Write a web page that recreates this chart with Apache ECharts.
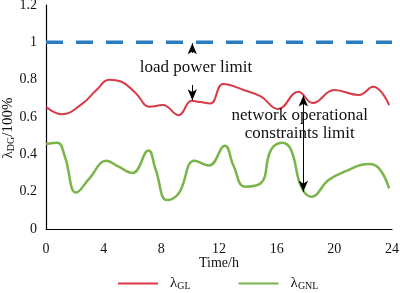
<!DOCTYPE html>
<html>
<head>
<meta charset="utf-8" />
<title>lambda DG</title>
<script src="https://cdn.jsdelivr.net/npm/echarts@6/dist/echarts.min.js"></script>
<style>
  html, body { margin: 0; padding: 0; background: #fff; }
  #main { width: 400px; height: 293px; }
</style>
</head>
<body>
<div id="main"></div>
<script>
// data
var glTime = [0, 1.1, 2.5, 3.5, 4.4, 5.2, 6.2, 7.2, 8.1, 9.2, 10.1, 10.7, 11.4, 12.3, 13.7, 14.9, 16.1, 17.5, 18.5, 20, 21.7, 22.7, 23.8];
var glValue = [0.655, 0.615, 0.67, 0.745, 0.8, 0.79, 0.73, 0.655, 0.664, 0.61, 0.687, 0.68, 0.672, 0.777, 0.745, 0.71, 0.643, 0.735, 0.675, 0.745, 0.718, 0.762, 0.664];

var gnlTime = [0, 0.8, 1.3, 2.1, 3, 4.2, 5, 6, 7.1, 7.6, 8.4, 9.2, 10.3, 11.3, 12.4, 13, 13.8, 14.9, 15.6, 16.4, 17, 17.7, 18.4, 19.6, 20.7, 22.4, 23.1, 23.8];
var gnlValue = [0.455, 0.462, 0.39, 0.195, 0.27, 0.366, 0.335, 0.3, 0.42, 0.32, 0.155, 0.19, 0.366, 0.34, 0.446, 0.34, 0.227, 0.245, 0.423, 0.462, 0.423, 0.227, 0.173, 0.262, 0.307, 0.348, 0.325, 0.218];

var limitTime = [0, 24];
var limitValue = [1, 1];

function pairs(t, v) {
  var out = [];
  for (var i = 0; i < t.length; i++) out.push([t[i], v[i]]);
  return out;
}

var serif = 'Liberation Serif';
var chart = echarts.init(document.getElementById('main'));

var arrowLine = { color: '#000', width: 1, type: 'solid' };

var option = {
  animation: false,
  grid: { left: 46, right: 8, top: 5, bottom: 64, outerBoundsMode: 'none', containLabel: false },
  xAxis: {
    type: 'value',
    min: 0, max: 24, interval: 4,
    name: 'Time/h',
    nameLocation: 'middle',
    nameGap: 27,
    nameMoveOverlap: false,
    nameTextStyle: { fontFamily: serif, fontSize: 14, color: '#111' },
    axisLine: { lineStyle: { color: '#000', width: 1.2 } },
    axisTick: { show: false },
    splitLine: { show: false },
    axisLabel: { fontFamily: serif, fontSize: 14, color: '#111', margin: 13 }
  },
  yAxis: {
    type: 'value',
    min: 0, max: 1.2, interval: 0.2,
    name: '{l|λ}{s|DG}{n|/100%}',
    nameLocation: 'middle',
    nameGap: 30,
    nameMoveOverlap: false,
    nameTextStyle: {
      padding: [0, 22, 0, 0],
      rich: {
        l: { fontFamily: serif, fontSize: 15, color: '#111' },
        s: { fontFamily: serif, fontSize: 10, color: '#111', verticalAlign: 'bottom', padding: [6, 0, 0, 0] },
        n: { fontFamily: serif, fontSize: 15, color: '#111' }
      }
    },
    axisLine: { show: true, lineStyle: { color: '#000', width: 1.2 } },
    axisTick: { show: false },
    splitLine: { show: false },
    axisLabel: { fontFamily: serif, fontSize: 14, color: '#111', margin: 9 }
  },
  legend: {
    left: 113,
    top: 271,
    itemGap: 48,
    itemWidth: 40,
    itemHeight: 2,
    icon: 'rect',
    data: ['λGL', 'λGNL'],
    formatter: function (name) {
      return '{l|λ}{s|' + name.slice(1) + '}';
    },
    textStyle: {
      rich: {
        l: { fontFamily: serif, fontSize: 15, color: '#111', padding: [0, 0, 0, 7] },
        s: { fontFamily: serif, fontSize: 10, color: '#111', verticalAlign: 'bottom', padding: [6, 0, 0, 0] }
      }
    }
  },
  series: [
    {
      name: 'limit',
      type: 'line',
      data: pairs(limitTime, limitValue),
      symbol: 'none',
      lineStyle: { color: '#2a7cc0', width: 3.5, type: [17, 13] },
      z: 3
    },
    {
      name: 'λGL',
      type: 'line',
      data: pairs(glTime, glValue),
      smooth: 0.45,
      symbol: 'none',
      itemStyle: { color: '#d83b47' },
      lineStyle: { color: '#d83b47', width: 2 }
    },
    {
      name: 'λGNL',
      type: 'line',
      data: pairs(gnlTime, gnlValue),
      smooth: 0.45,
      symbol: 'none',
      itemStyle: { color: '#7bb44a' },
      lineStyle: { color: '#7bb44a', width: 2.5 }
    },
    {
      name: 'notes',
      type: 'line',
      data: [],
      markLine: {
        silent: true,
        symbol: ['none', 'arrow'],
        symbolSize: [7, 11],
        label: { show: false },
        lineStyle: arrowLine,
        data: [
          [{ coord: [10.15, 0.943] }, { coord: [10.15, 0.995] }],
          [{ coord: [10.15, 0.771] }, { coord: [10.15, 0.69] }],
          [{ coord: [17.85, 0.45], symbol: 'none' }, { coord: [17.85, 0.715] }],
          [{ coord: [17.85, 0.45], symbol: 'none' }, { coord: [17.85, 0.2] }]
        ]
      },
      markPoint: {
        silent: true,
        symbol: 'circle',
        symbolSize: 0,
        label: {
          show: true,
          position: 'inside',
          fontFamily: serif,
          fontSize: 17,
          color: '#111',
          lineHeight: 18
        },
        data: [
          { coord: [10.4, 0.864], value: 'load power limit', label: { formatter: 'load power limit' } },
          { coord: [17.6, 0.562], value: 'net', label: { formatter: 'network operational\nconstraints limit' } }
        ]
      }
    }
  ]
};

chart.setOption(option);
window.onresize = function () { chart.resize(); };
</script>
</body>
</html>
